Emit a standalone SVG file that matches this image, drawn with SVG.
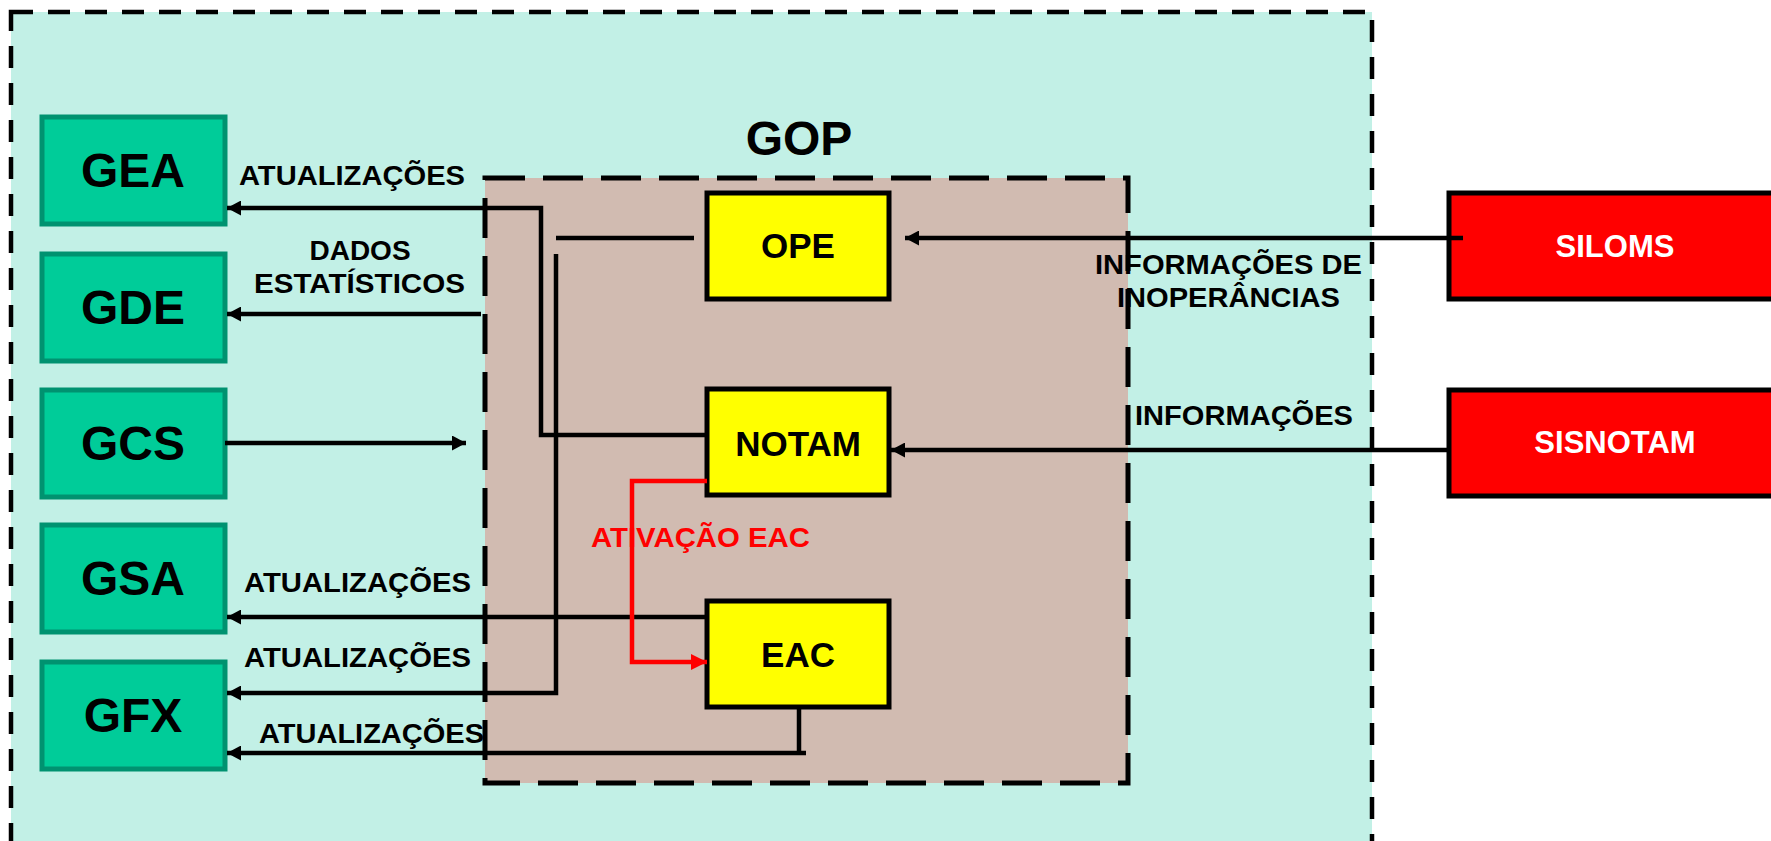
<svg xmlns="http://www.w3.org/2000/svg" width="1771" height="841" viewBox="0 0 1771 841">
<style>
.lbl{font-family:"Liberation Sans",Arial,sans-serif;font-weight:bold;fill:#000}
.big{font-size:48px;text-anchor:middle}
.mid{font-size:35px;text-anchor:middle}
.sm{font-size:28px}
.wht{font-family:"Liberation Sans",Arial,sans-serif;font-weight:bold;font-size:31px;fill:#fff;text-anchor:middle}
.gbox{fill:#00CC99;stroke:#009270;stroke-width:5}
.ybox{fill:#FFFF00;stroke:#000;stroke-width:5}
.rbox{fill:#FF0000;stroke:#000;stroke-width:5}
.ln{fill:none;stroke:#000;stroke-width:4.5}
.rln{fill:none;stroke:#FF0000;stroke-width:4.5}
</style>
<defs>
<marker id="ah" viewBox="0 0 14 15" refX="14" refY="7.5" markerWidth="14" markerHeight="15" markerUnits="userSpaceOnUse" orient="auto">
<path d="M0,0 L14,7.5 L0,15 z" fill="#000"/>
</marker>
<marker id="ahr" viewBox="0 0 16 16" refX="16" refY="8" markerWidth="16" markerHeight="16" markerUnits="userSpaceOnUse" orient="auto">
<path d="M0,0 L16,8 L0,16 z" fill="#FF0000"/>
</marker>
</defs>
<rect x="0" y="0" width="1771" height="841" fill="#fff"/>
<g id="outer">
<rect x="11" y="12" width="1361" height="850" fill="#C2F0E6" stroke="#000" stroke-width="4.5" stroke-dasharray="22 15"/>
</g>
<g id="gop">
<rect x="485" y="178" width="643" height="605" fill="#D1BBB1" stroke="#000" stroke-width="5" stroke-dasharray="40 18"/>
<text class="lbl big" x="799" y="155" font-size="46">GOP</text>
</g>
<g id="gea"><rect class="gbox" x="42" y="117" width="183" height="107"/><text class="lbl big" x="133" y="187">GEA</text></g>
<g id="gde"><rect class="gbox" x="42" y="254" width="183" height="107"/><text class="lbl big" x="133" y="324">GDE</text></g>
<g id="gcs"><rect class="gbox" x="42" y="390" width="183" height="107"/><text class="lbl big" x="133" y="460">GCS</text></g>
<g id="gsa"><rect class="gbox" x="42" y="525" width="183" height="107"/><text class="lbl big" x="133" y="595">GSA</text></g>
<g id="gfx"><rect class="gbox" x="42" y="662" width="183" height="107"/><text class="lbl big" x="133" y="732">GFX</text></g>
<g id="ope"><rect class="ybox" x="707" y="193" width="182" height="106"/><text class="lbl mid" x="798" y="258">OPE</text></g>
<g id="notam"><rect class="ybox" x="707" y="389" width="182" height="106"/><text class="lbl mid" x="798" y="456">NOTAM</text></g>
<g id="eac"><rect class="ybox" x="707" y="601" width="182" height="106"/><text class="lbl mid" x="798" y="667">EAC</text></g>
<g id="siloms"><rect class="rbox" x="1449" y="193" width="330" height="106"/><text class="wht" x="1615" y="257">SILOMS</text></g>
<g id="sisnotam"><rect class="rbox" x="1449" y="390" width="330" height="106"/><text class="wht" x="1615" y="453">SISNOTAM</text></g>
<g id="connectors">
<polyline class="ln" points="707,435 541,435 541,208 227,208" marker-end="url(#ah)"/>
<line class="ln" x1="481" y1="314" x2="227" y2="314" marker-end="url(#ah)"/>
<line class="ln" x1="225" y1="443" x2="466" y2="443" marker-end="url(#ah)"/>
<line class="ln" x1="694" y1="238" x2="556" y2="238"/>
<polyline class="ln" points="556,254 556,693 227,693" marker-end="url(#ah)"/>
<line class="ln" x1="707" y1="617" x2="227" y2="617" marker-end="url(#ah)"/>
<line class="ln" x1="799" y1="707" x2="799" y2="753"/>
<line class="ln" x1="806" y1="753" x2="227" y2="753" marker-end="url(#ah)"/>
<line class="ln" x1="1463" y1="238" x2="905" y2="238" marker-end="url(#ah)"/>
<line class="ln" x1="1449" y1="450" x2="891" y2="450" marker-end="url(#ah)"/>
<polyline class="rln" points="707,481 632,481 632,662 707,662" marker-end="url(#ahr)"/>
</g>
<g id="labels">
<text class="lbl sm" x="239" y="185" textLength="226" lengthAdjust="spacingAndGlyphs">ATUALIZAÇÕES</text>
<text class="lbl sm" x="360" y="260" text-anchor="middle">DADOS</text>
<text class="lbl sm" x="254" y="293" textLength="211" lengthAdjust="spacingAndGlyphs">ESTATÍSTICOS</text>
<text class="lbl sm" x="244" y="592" textLength="227" lengthAdjust="spacingAndGlyphs">ATUALIZAÇÕES</text>
<text class="lbl sm" x="244" y="667" textLength="227" lengthAdjust="spacingAndGlyphs">ATUALIZAÇÕES</text>
<text class="lbl sm" x="259" y="743" textLength="225" lengthAdjust="spacingAndGlyphs">ATUALIZAÇÕES</text>
<text class="lbl sm" x="591" y="547" style="fill:#FF0000" textLength="219" lengthAdjust="spacingAndGlyphs">ATIVAÇÃO EAC</text>
<text class="lbl sm" x="1095" y="274" textLength="267" lengthAdjust="spacingAndGlyphs">INFORMAÇÕES DE</text>
<text class="lbl sm" x="1117" y="307" textLength="223" lengthAdjust="spacingAndGlyphs">INOPERÂNCIAS</text>
<text class="lbl sm" x="1135" y="425" textLength="218" lengthAdjust="spacingAndGlyphs">INFORMAÇÕES</text>
</g>
</svg>
